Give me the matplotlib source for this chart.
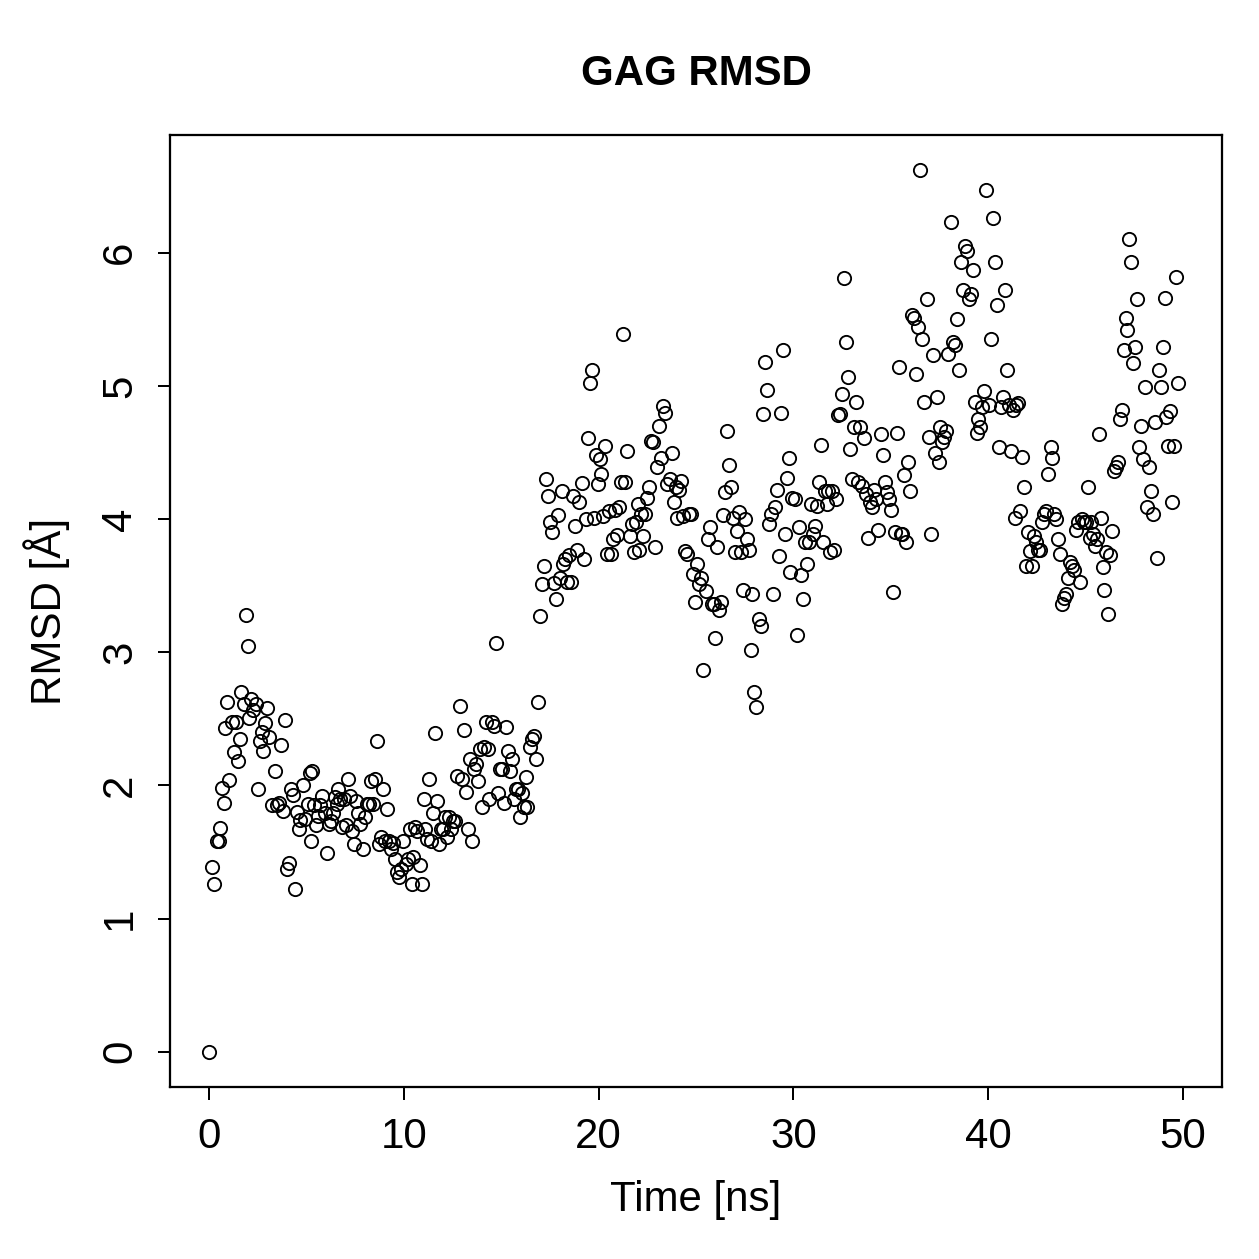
import numpy as np
import matplotlib
matplotlib.use('Agg')
import matplotlib.pyplot as plt

plt.rcParams['font.family'] = ['Liberation Sans', 'DejaVu Sans']

# (time [ns], RMSD [A]) pairs, grouped in 5 ns blocks
seg_00_05 = [(0.0, 0.0), (0.15, 1.39), (0.25, 1.26), (0.4, 1.58), (0.5, 1.58), (0.55, 1.68),
             (0.65, 1.98), (0.75, 1.87), (0.85, 2.43), (0.95, 2.63), (1.05, 2.04), (1.2, 2.48),
             (1.3, 2.25), (1.4, 2.48), (1.5, 2.18), (1.6, 2.35), (1.65, 2.70), (1.8, 2.61),
             (1.9, 3.28), (1.98, 3.05), (2.05, 2.51), (2.15, 2.65), (2.25, 2.57), (2.4, 2.61),
             (2.5, 1.97), (2.6, 2.33), (2.7, 2.40), (2.8, 2.26), (2.9, 2.47), (3.0, 2.58),
             (3.1, 2.36), (3.25, 1.85), (3.4, 2.11), (3.5, 1.85), (3.6, 1.87), (3.7, 2.30),
             (3.8, 1.81), (3.9, 2.49), (4.0, 1.37), (4.1, 1.42), (4.2, 1.97), (4.3, 1.93),
             (4.4, 1.22), (4.5, 1.80), (4.6, 1.67), (4.7, 1.74), (4.85, 2.00), (4.95, 1.75)]
seg_05_10 = [(5.1, 1.86), (5.2, 2.09), (5.25, 1.58), (5.3, 2.11), (5.4, 1.85), (5.5, 1.70),
             (5.6, 1.77), (5.7, 1.85), (5.8, 1.92), (5.95, 1.79), (6.05, 1.49), (6.15, 1.71),
             (6.25, 1.73), (6.35, 1.79), (6.45, 1.91), (6.55, 1.86), (6.65, 1.97), (6.75, 1.90),
             (6.85, 1.69), (6.95, 1.90), (7.05, 1.70), (7.15, 2.05), (7.25, 1.92), (7.35, 1.66),
             (7.45, 1.56), (7.55, 1.88), (7.65, 1.79), (7.75, 1.71), (7.9, 1.52), (8.0, 1.76),
             (8.1, 1.86), (8.2, 1.86), (8.3, 2.03), (8.4, 1.86), (8.5, 2.05), (8.65, 2.33),
             (8.75, 1.56), (8.85, 1.61), (8.95, 1.97), (9.05, 1.58), (9.15, 1.82), (9.25, 1.58),
             (9.35, 1.52), (9.45, 1.57), (9.55, 1.45), (9.65, 1.35), (9.75, 1.31), (9.85, 1.37),
             (9.95, 1.58)]
seg_10_15 = [(10.1, 1.41), (10.2, 1.45), (10.3, 1.67), (10.4, 1.26), (10.5, 1.46), (10.6, 1.69),
             (10.7, 1.66), (10.85, 1.40), (10.95, 1.26), (11.05, 1.90), (11.1, 1.67), (11.2, 1.60),
             (11.3, 2.05), (11.4, 1.58), (11.5, 1.79), (11.6, 2.39), (11.7, 1.88), (11.8, 1.56),
             (11.9, 1.67), (12.0, 1.67), (12.1, 1.76), (12.2, 1.61), (12.3, 1.76), (12.45, 1.67),
             (12.55, 1.73), (12.65, 1.73), (12.75, 2.07), (12.9, 2.60), (13.0, 2.05), (13.1, 2.42),
             (13.2, 1.95), (13.3, 1.67), (13.4, 2.20), (13.5, 1.58), (13.6, 2.12), (13.7, 2.16),
             (13.8, 2.03), (13.9, 2.27), (14.0, 1.84), (14.1, 2.29), (14.2, 2.48), (14.3, 2.27),
             (14.4, 1.90), (14.55, 2.48), (14.65, 2.45), (14.75, 3.07), (14.85, 1.94), (14.95, 2.12)]
seg_15_20 = [(15.05, 2.12), (15.15, 1.87), (15.25, 2.44), (15.35, 2.26), (15.45, 2.11), (15.55, 2.20),
             (15.65, 1.90), (15.75, 1.97), (15.85, 1.97), (15.95, 1.76), (16.05, 1.94), (16.15, 1.84),
             (16.25, 2.06), (16.35, 1.84), (16.5, 2.29), (16.6, 2.35), (16.7, 2.37), (16.8, 2.20),
             (16.9, 2.63), (17.0, 3.27), (17.1, 3.51), (17.2, 3.65), (17.3, 4.30), (17.4, 4.17),
             (17.5, 3.98), (17.6, 3.90), (17.7, 3.52), (17.8, 3.40), (17.9, 4.03), (18.0, 3.56),
             (18.1, 4.21), (18.2, 3.66), (18.3, 3.70), (18.4, 3.53), (18.5, 3.73), (18.6, 3.53),
             (18.7, 4.17), (18.8, 3.95), (18.9, 3.77), (19.0, 4.13), (19.15, 4.27), (19.25, 3.70),
             (19.35, 4.00), (19.45, 4.61), (19.55, 5.02), (19.65, 5.12), (19.75, 4.01), (19.85, 4.48),
             (19.95, 4.26)]
seg_20_25 = [(20.05, 4.45), (20.15, 4.34), (20.25, 4.02), (20.35, 4.55), (20.45, 3.74), (20.55, 4.06),
             (20.65, 3.74), (20.75, 3.85), (20.85, 4.07), (20.95, 3.88), (21.05, 4.09), (21.15, 4.28),
             (21.25, 5.39), (21.35, 4.28), (21.45, 4.51), (21.6, 3.87), (21.7, 3.96), (21.8, 3.75),
             (21.9, 3.98), (22.0, 4.11), (22.1, 3.77), (22.2, 4.04), (22.3, 3.87), (22.4, 4.04),
             (22.5, 4.16), (22.6, 4.24), (22.7, 4.59), (22.8, 4.58), (22.9, 3.79), (23.0, 4.39),
             (23.1, 4.70), (23.2, 4.46), (23.3, 4.85), (23.4, 4.80), (23.5, 4.26), (23.65, 4.30),
             (23.75, 4.50), (23.85, 4.13), (23.95, 4.24), (24.05, 4.01), (24.15, 4.22), (24.25, 4.29),
             (24.35, 4.02), (24.45, 3.76), (24.55, 3.74), (24.65, 4.04), (24.75, 4.04), (24.85, 3.59),
             (24.95, 3.38)]
seg_25_30 = [(25.05, 3.66), (25.15, 3.51), (25.25, 3.56), (25.35, 2.87), (25.5, 3.46), (25.6, 3.85),
             (25.7, 3.94), (25.8, 3.36), (25.9, 3.36), (26.0, 3.11), (26.1, 3.79), (26.2, 3.32),
             (26.3, 3.38), (26.4, 4.03), (26.5, 4.20), (26.6, 4.66), (26.7, 4.41), (26.8, 4.24),
             (26.9, 4.01), (27.0, 3.75), (27.1, 3.91), (27.2, 4.05), (27.3, 3.75), (27.4, 3.47),
             (27.5, 4.00), (27.6, 3.85), (27.7, 3.77), (27.8, 3.02), (27.9, 3.44), (28.0, 2.70),
             (28.1, 2.59), (28.25, 3.25), (28.35, 3.20), (28.45, 4.79), (28.55, 5.18), (28.65, 4.97),
             (28.75, 3.96), (28.85, 4.04), (28.95, 3.44), (29.05, 4.09), (29.15, 4.22), (29.25, 3.72),
             (29.35, 4.80), (29.45, 5.27), (29.55, 3.89), (29.65, 4.31), (29.75, 4.46), (29.85, 3.60),
             (29.95, 4.16)]
seg_30_35 = [(30.1, 4.15), (30.2, 3.13), (30.3, 3.94), (30.4, 3.58), (30.5, 3.40), (30.6, 3.83),
             (30.7, 3.66), (30.8, 3.83), (30.9, 4.11), (31.0, 3.89), (31.1, 3.95), (31.2, 4.10),
             (31.3, 4.28), (31.4, 4.56), (31.5, 3.83), (31.6, 4.21), (31.7, 4.11), (31.8, 4.21),
             (31.9, 3.75), (32.0, 4.21), (32.1, 3.77), (32.2, 4.15), (32.3, 4.78), (32.4, 4.79),
             (32.5, 4.94), (32.6, 5.81), (32.7, 5.33), (32.8, 5.07), (32.9, 4.53), (33.0, 4.30),
             (33.1, 4.69), (33.2, 4.88), (33.3, 4.28), (33.4, 4.69), (33.5, 4.25), (33.6, 4.61),
             (33.75, 4.19), (33.85, 3.86), (33.95, 4.13), (34.05, 4.09), (34.15, 4.22), (34.25, 4.15),
             (34.35, 3.92), (34.5, 4.64), (34.6, 4.48), (34.7, 4.28), (34.8, 4.20), (34.9, 4.15)]
seg_35_40 = [(35.0, 4.07), (35.1, 3.45), (35.2, 3.90), (35.3, 4.65), (35.4, 5.14), (35.5, 3.89),
             (35.6, 3.89), (35.7, 4.33), (35.8, 3.83), (35.9, 4.43), (36.0, 4.21), (36.1, 5.53),
             (36.2, 5.51), (36.3, 5.09), (36.4, 5.44), (36.5, 6.62), (36.6, 5.35), (36.7, 4.88),
             (36.85, 5.65), (36.95, 4.62), (37.05, 3.89), (37.15, 5.23), (37.25, 4.50), (37.35, 4.92),
             (37.45, 4.43), (37.55, 4.69), (37.65, 4.58), (37.75, 4.62), (37.85, 4.66), (37.95, 5.24),
             (38.1, 6.23), (38.2, 5.33), (38.3, 5.31), (38.4, 5.50), (38.5, 5.12), (38.6, 5.93),
             (38.7, 5.72), (38.8, 6.05), (38.9, 6.01), (39.0, 5.65), (39.1, 5.69), (39.2, 5.87),
             (39.3, 4.88), (39.4, 4.65), (39.5, 4.75), (39.6, 4.69), (39.7, 4.84), (39.8, 4.96),
             (39.9, 6.47)]
seg_40_45 = [(40.05, 4.86), (40.15, 5.35), (40.25, 6.26), (40.35, 5.93), (40.45, 5.61), (40.55, 4.54),
             (40.65, 4.84), (40.75, 4.92), (40.85, 5.72), (40.95, 5.12), (41.05, 4.86), (41.15, 4.51),
             (41.25, 4.82), (41.35, 4.01), (41.45, 4.86), (41.55, 4.87), (41.65, 4.06), (41.75, 4.47),
             (41.85, 4.24), (41.95, 3.65), (42.05, 3.90), (42.15, 3.76), (42.25, 3.65), (42.35, 3.87),
             (42.45, 3.83), (42.55, 3.77), (42.65, 3.77), (42.75, 3.98), (42.85, 4.04), (42.95, 4.06),
             (43.05, 4.34), (43.2, 4.54), (43.3, 4.46), (43.4, 4.04), (43.5, 4.00), (43.6, 3.85),
             (43.7, 3.74), (43.8, 3.36), (43.9, 3.41), (44.0, 3.44), (44.1, 3.56), (44.2, 3.68),
             (44.3, 3.65), (44.4, 3.62), (44.5, 3.92), (44.6, 3.98), (44.7, 3.53), (44.8, 4.00),
             (44.9, 3.98)]
seg_45_50 = [(45.0, 3.98), (45.1, 4.24), (45.2, 3.86), (45.3, 3.98), (45.4, 3.89), (45.5, 3.80),
             (45.6, 3.85), (45.7, 4.64), (45.8, 4.01), (45.9, 3.64), (45.95, 3.47), (46.05, 3.75),
             (46.15, 3.29), (46.25, 3.73), (46.35, 3.91), (46.45, 4.36), (46.55, 4.39), (46.65, 4.43),
             (46.75, 4.75), (46.85, 4.82), (46.95, 5.27), (47.05, 5.51), (47.15, 5.42), (47.25, 6.10),
             (47.35, 5.93), (47.45, 5.17), (47.55, 5.29), (47.65, 5.65), (47.75, 4.54), (47.85, 4.70),
             (47.95, 4.45), (48.05, 4.99), (48.15, 4.09), (48.25, 4.39), (48.35, 4.21), (48.45, 4.04),
             (48.55, 4.73), (48.65, 3.71), (48.75, 5.12), (48.85, 4.99), (48.95, 5.29), (49.05, 5.66),
             (49.15, 4.77), (49.25, 4.55), (49.35, 4.81), (49.45, 4.13), (49.55, 4.55), (49.65, 5.82),
             (49.75, 5.02)]

x_ticks = [0, 10, 20, 30, 40, 50]
y_ticks = [0, 1, 2, 3, 4, 5, 6]

data = np.array(seg_00_05 + seg_05_10 + seg_10_15 + seg_15_20 + seg_20_25 +
                seg_25_30 + seg_30_35 + seg_35_40 + seg_40_45 + seg_45_50)
time = data[:, 0]
rmsd = data[:, 1]

fs = 16.8

fig = plt.figure(figsize=(1259 / 180, 1259 / 180), dpi=180)
ax = fig.add_axes([0.135, 0.1366, 0.8356, 0.7562])

ax.plot(time, rmsd, linestyle='none', marker='o', markersize=5.3,
        markerfacecolor='none', markeredgecolor='black', markeredgewidth=0.75)

ax.set_xlim(-2, 52)
ax.set_ylim(-0.265, 6.885)
ax.set_xticks(x_ticks)
ax.set_yticks(y_ticks)
ax.tick_params(direction='out', length=5, width=0.8, labelsize=fs, pad=7, color='black')
ax.tick_params(axis='y', labelrotation=90)
for lab in ax.get_yticklabels():
    lab.set_va('center')

for sp in ax.spines.values():
    sp.set_linewidth(0.9)

ax.set_title('GAG RMSD', fontsize=fs, fontweight='bold', pad=20)
ax.set_xlabel('Time [ns]', fontsize=fs, labelpad=9)
ax.set_ylabel('RMSD [Å]', fontsize=fs, labelpad=12)

fig.savefig('out.png', dpi=180)
